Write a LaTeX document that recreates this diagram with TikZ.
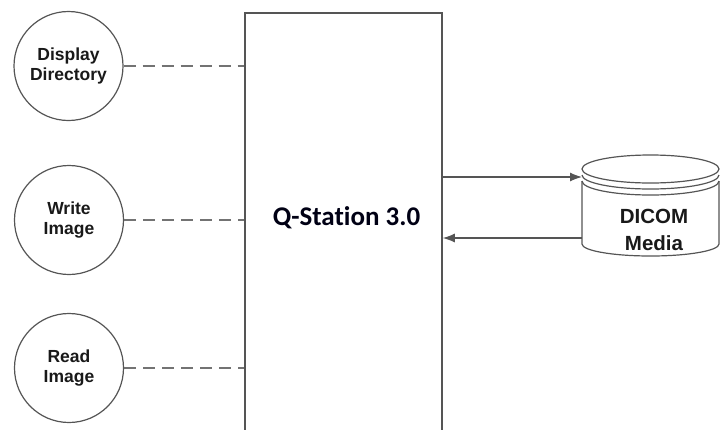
\documentclass[tikz,border=0pt]{standalone}
\usepackage{fontspec}
\setmainfont{Liberation Sans}
\newfontfamily\carlito[Ligatures={NoCommon}]{Carlito}
\usetikzlibrary{arrows.meta}

\definecolor{linegray}{RGB}{85,85,85}
\definecolor{dashgray}{RGB}{115,115,115}
\definecolor{txtgray}{RGB}{25,25,25}

\tikzset{
  proc/.style={draw=linegray, line width=1.2pt, circle, minimum size=109pt, inner sep=0pt,
               align=center, text=txtgray, font=\bfseries\fontsize{17.5}{20}\selectfont},
  link/.style={draw=dashgray, line width=1.4pt, dash pattern=on 12pt off 7pt},
  flow/.style={draw=linegray, line width=1.2pt, -{Latex[length=12pt,width=9pt]}},
  disk/.style={draw=linegray, line width=1.2pt},
}

\begin{document}
\begin{tikzpicture}[x=1pt,y=-1pt]
\useasboundingbox (0,0) rectangle (720,429);
\clip (0,0) rectangle (720,429);

% station box, its bottom runs off the page
\node[draw=linegray, line width=1.5pt, minimum width=197pt, minimum height=470pt,
      anchor=north, inner sep=0pt] (qs) at (343.5,12) {};
\node[anchor=base, font=\carlito\bfseries\fontsize{27}{30}\selectfont, text=black!92!blue]
      (qslabel) at (346.5,225) {Q-Station 3.0};

% services
\node[proc] (dispdir) at (68.5,66)  {Display\\Directory};
\node[proc] (writeimg) at (69,220)  {Write\\Image};
\node[proc] (readimg) at (69,368)   {Read\\Image};

\draw[link] (dispdir.east)  -- (qs.west |- dispdir.east);
\draw[link] (writeimg.east) -- (qs.west |- writeimg.east);
\draw[link] (readimg.east)  -- (qs.west |- readimg.east);

% media store
\draw[disk] (650.5,169) ellipse [x radius=68.5, y radius=14];
\draw[disk] (582,175) arc [start angle=180, end angle=0, x radius=68.5, y radius=14];
\draw[disk] (582,181) arc [start angle=180, end angle=0, x radius=68.5, y radius=14];
\draw[disk] (582,181) -- (582,244) arc [start angle=180, end angle=0, x radius=68.5, y radius=12] -- (719,181);
\node[align=center, text=txtgray, font=\bfseries\fontsize{20.5}{27}\selectfont] (db) at (654,230) {DICOM\\Media};

\coordinate (dbin)  at (582,177);
\coordinate (dbout) at (582,238);
\draw[flow] (qs.east |- dbin) -- (dbin);
\draw[flow] (dbout) -- (qs.east |- dbout);

\end{tikzpicture}
\end{document}
